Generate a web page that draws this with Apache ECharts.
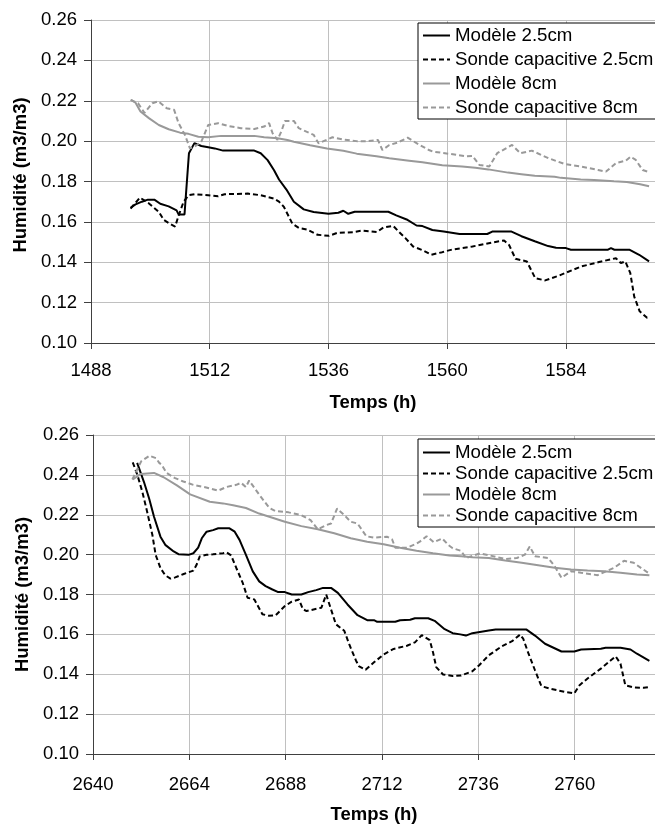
<!DOCTYPE html>
<html>
<head>
<meta charset="utf-8">
<script src="https://cdn.jsdelivr.net/npm/echarts@6/dist/echarts.min.js"></script>
<style>
  html, body { margin: 0; padding: 0; background: #ffffff; }
  #chart { width: 655px; height: 825px; }
</style>
</head>
<body>
<div id="chart"></div>
<script>
// Series names shown in both legends
const seriesNames = ['Modèle 2.5cm', 'Sonde capacitive 2.5cm', 'Modèle 8cm', 'Sonde capacitive 8cm'];

// Labelled ticks on the time axes (hours)
const topTimeTicks = [1488, 1512, 1536, 1560, 1584];
const bottomTimeTicks = [2640, 2664, 2688, 2712, 2736, 2760];

// Upper panel: [time (h), water content (m3/m3)]
const topModele25 = [
  [1496,0.167],[1497,0.1687],[1498.3,0.170],[1499.5,0.171],[1500.8,0.171],[1502,0.169],[1503.7,0.1677],
  [1505.3,0.1657],[1505.7,0.1637],[1506.9,0.1637],[1507.8,0.194],[1508.9,0.199],[1510.3,0.1976],[1511.7,0.197],
  [1513,0.1964],[1514.7,0.1953],[1521,0.1953],[1522.3,0.194],[1523.7,0.1906],[1525,0.1856],[1526,0.181],
  [1527.5,0.176],[1529,0.170],[1531,0.1662],[1533,0.1649],[1536,0.164],[1538,0.1645],[1539,0.1655],[1540,0.164],
  [1541.3,0.165],[1548.1,0.165],[1549.7,0.1632],[1551.8,0.1612],[1553.8,0.1582],[1555,0.1579],[1557,0.156],
  [1559.3,0.1552],[1562.5,0.154],[1568.1,0.154],[1569.1,0.1552],[1573,0.1552],[1575,0.1529],[1577.7,0.1504],
  [1580.4,0.148],[1582,0.1472],[1584,0.147],[1585,0.1462],[1592.5,0.1462],[1593.1,0.147],[1593.8,0.1462],
  [1596.8,0.1462],[1598.8,0.1437],[1600.8,0.1404]
];
const topSonde25 = [
  [1496,0.1666],[1497.9,0.172],[1499.6,0.1694],[1501.7,0.165],[1502.7,0.161],[1504,0.159],[1505,0.1577],
  [1505.7,0.163],[1506.7,0.1699],[1507.7,0.1732],[1509,0.1737],[1511.7,0.1732],[1513.7,0.1727],[1515,0.1737],
  [1519.7,0.174],[1522.3,0.1732],[1525,0.1715],[1526,0.170],[1527,0.1674],[1528.7,0.1591],[1530,0.157],
  [1531.7,0.1562],[1533.8,0.1536],[1536.1,0.1531],[1537.7,0.1545],[1541,0.1549],[1542.8,0.1557],[1545.8,0.155],
  [1547.1,0.1572],[1549.1,0.158],[1550.3,0.1549],[1551.5,0.1521],[1553.1,0.1478],[1555,0.146],[1556.8,0.1437],
  [1559,0.145],[1561,0.1463],[1565.1,0.1478],[1569.1,0.1498],[1571.5,0.1508],[1572.5,0.1486],[1573.8,0.1417],
  [1576.1,0.1404],[1577.8,0.1321],[1579.8,0.131],[1582.5,0.1333],[1587.1,0.1379],[1590.5,0.14],[1594.1,0.142],
  [1595.1,0.1396],[1596,0.1404],[1597,0.1347],[1597.8,0.123],[1598.9,0.1157],[1600.4,0.1125],[1600.8,0.1125]
];
const topModele8 = [
  [1496.1,0.2204],[1497,0.219],[1498,0.2147],[1499.7,0.2114],[1501.7,0.208],[1503.7,0.2059],[1506,0.2042],
  [1507.7,0.2036],[1509.7,0.2022],[1511.7,0.2019],[1514.3,0.2026],[1521,0.2026],[1523,0.2019],[1525.7,0.2014],
  [1527.7,0.2006],[1529,0.1997],[1532.3,0.198],[1535.7,0.1963],[1539,0.1952],[1541.7,0.1938],[1545.7,0.1925],
  [1548.3,0.1915],[1552.3,0.1903],[1555,0.1895],[1559,0.188],[1563,0.1874],[1565.7,0.1868],[1568.3,0.186],
  [1572.3,0.1844],[1575,0.1836],[1577.7,0.1828],[1581.7,0.1823],[1583,0.1818],[1587,0.181],[1589.7,0.1808],
  [1593.7,0.1801],[1596.3,0.1798],[1599,0.1786],[1600.8,0.1776]
];
const topSonde8 = [
  [1496,0.2204],[1497.5,0.2188],[1498.8,0.214],[1500.4,0.2188],[1501.6,0.2197],[1503.3,0.2163],[1504.8,0.2155],
  [1505.7,0.2089],[1507,0.203],[1508,0.1964],[1509,0.1973],[1510.3,0.1997],[1511.7,0.208],[1513.7,0.2089],
  [1515.7,0.2075],[1518.3,0.2064],[1521,0.206],[1523,0.2072],[1524,0.2089],[1524.7,0.2039],[1525.7,0.2006],
  [1526.5,0.205],[1527.2,0.21],[1529,0.21],[1530,0.2064],[1533,0.2031],[1534,0.1989],[1535,0.2],[1536.8,0.2019],
  [1539,0.2008],[1541.7,0.2],[1543.8,0.2],[1546,0.2006],[1546.9,0.1956],[1548.3,0.1981],[1550,0.1993],
  [1552,0.2017],[1553.8,0.199],[1556.3,0.1956],[1557.1,0.1948],[1560.5,0.1937],[1563.7,0.1925],[1565.1,0.1927],
  [1566.5,0.1882],[1568.5,0.1874],[1570.1,0.194],[1573.1,0.1981],[1574.8,0.194],[1577.1,0.1953],[1580.5,0.1915],
  [1583.8,0.1886],[1587.1,0.1874],[1590.5,0.1857],[1592.1,0.1849],[1594.1,0.1891],[1596.1,0.1903],[1597.1,0.1923],
  [1598.1,0.1907],[1599.5,0.1857],[1600.8,0.1847]
];

// Lower panel: [time (h), water content (m3/m3)]
const bottomModele25 = [
  [2651,0.246],[2652.7,0.2364],[2654,0.228],[2655.2,0.219],[2656.8,0.209],[2658,0.2049],[2660.1,0.2016],
  [2661.3,0.2002],[2663.8,0.1999],[2665,0.2007],[2666.2,0.2035],[2667.1,0.2082],[2668.3,0.2115],[2669.9,0.2123],
  [2671.2,0.2132],[2674,0.2132],[2675.3,0.2115],[2676.5,0.2074],[2678.1,0.1999],[2679.8,0.1916],[2681.4,0.1866],
  [2683,0.1842],[2684.7,0.1825],[2686,0.1813],[2687.8,0.1812],[2689.5,0.18],[2691.9,0.18],[2693.6,0.1812],
  [2695.6,0.1822],[2697.3,0.1833],[2699.3,0.1833],[2701,0.1808],[2703.4,0.175],[2705.9,0.1696],[2708.3,0.1671],
  [2710,0.1671],[2710.8,0.1663],[2715.3,0.1663],[2716.5,0.1671],[2719,0.1673],[2720.2,0.1681],[2723.5,0.1681],
  [2725.1,0.1668],[2727.6,0.1626],[2729.6,0.1606],[2731.5,0.16],[2732.9,0.1594],[2734.5,0.1606],[2738.6,0.1619],
  [2740.3,0.1624],[2748,0.1624],[2750.1,0.1594],[2752.6,0.1553],[2756.7,0.1514],[2759.9,0.1514],[2761.6,0.1524],
  [2766.5,0.1528],[2767.7,0.1533],[2771.4,0.1533],[2773.9,0.1524],[2775.5,0.1503],[2778.6,0.1467]
];
const bottomSonde25 = [
  [2649.9,0.2463],[2651.1,0.2397],[2652.3,0.2314],[2653.5,0.2214],[2654.8,0.2098],[2655.6,0.1999],[2656.8,0.1933],
  [2658,0.1896],[2659.3,0.188],[2660.5,0.1886],[2662.6,0.1903],[2665,0.192],[2665.8,0.1949],[2666.6,0.1991],
  [2668.3,0.1999],[2669.9,0.2002],[2672.4,0.2007],[2673.2,0.2012],[2674.4,0.1996],[2675.7,0.1933],[2677.3,0.1858],
  [2678.5,0.1784],[2680.2,0.1775],[2682.2,0.1701],[2683.7,0.1694],[2685.5,0.1696],[2687.8,0.1742],[2689.5,0.1764],
  [2691.3,0.1775],[2692.3,0.1726],[2693.2,0.1717],[2696.9,0.1734],[2698.1,0.18],[2698.9,0.175],[2700.5,0.1651],
  [2702.6,0.1618],[2703.8,0.1552],[2705.5,0.1469],[2706.3,0.1439],[2707.9,0.1422],[2710,0.146],[2712.4,0.1499],
  [2714.9,0.1527],[2718.2,0.1543],[2720.2,0.156],[2721.9,0.1596],[2723.9,0.1571],[2724.7,0.151],[2725.5,0.1436],
  [2727.2,0.1399],[2729.6,0.1391],[2731.7,0.1394],[2734.5,0.1415],[2736.2,0.1445],[2738.6,0.1495],[2741.9,0.1541],
  [2744.4,0.1566],[2746.4,0.1599],[2747.2,0.1577],[2748.5,0.1503],[2750.1,0.142],[2751.7,0.134],[2754.2,0.1326],
  [2757.5,0.1312],[2759.9,0.1304],[2761.2,0.1345],[2763.2,0.1379],[2766.5,0.1428],[2769,0.147],[2770.2,0.149],
  [2771.4,0.1453],[2772.6,0.1345],[2774.7,0.1334],[2777.2,0.1332],[2778.6,0.1336]
];
const bottomModele8 = [
  [2649.9,0.2377],[2651.9,0.2405],[2655.2,0.241],[2657.6,0.2388],[2660.9,0.2347],[2664.2,0.2302],[2669.1,0.2265],
  [2672.4,0.2257],[2674.9,0.2248],[2678.1,0.2234],[2681.4,0.2206],[2684.7,0.2185],[2687.8,0.2165],[2691.9,0.2143],
  [2696,0.2127],[2700.1,0.2107],[2704.2,0.2082],[2708.3,0.2065],[2712.4,0.2052],[2716.5,0.2035],[2720.6,0.2019],
  [2724.7,0.2007],[2728.8,0.1996],[2731.7,0.1992],[2734.5,0.1987],[2738.6,0.1983],[2742.7,0.197],[2746.8,0.1959],
  [2750.9,0.1947],[2755,0.1934],[2759.1,0.1925],[2763.2,0.192],[2767.3,0.1917],[2771.4,0.1909],[2775.5,0.19],
  [2778.6,0.1897]
];
const bottomSonde8 = [
  [2649.8,0.2377],[2650.8,0.2418],[2652,0.2468],[2654.1,0.2496],[2655.7,0.2484],[2656.5,0.246],[2657.1,0.2451],
  [2658.3,0.241],[2660.3,0.2385],[2662.5,0.2367],[2665,0.235],[2668.2,0.2337],[2671.2,0.2321],[2673.2,0.2339],
  [2675.7,0.235],[2676.9,0.236],[2678.1,0.2339],[2678.9,0.2372],[2681.4,0.2301],[2683.9,0.2235],[2685.4,0.2219],
  [2688.7,0.2212],[2691.9,0.2198],[2694.2,0.2173],[2696,0.2127],[2698.1,0.2148],[2699.3,0.2156],[2700.8,0.2231],
  [2702.6,0.2198],[2704.2,0.2165],[2705.9,0.2156],[2708.1,0.2092],[2710,0.2085],[2713.2,0.209],[2714.5,0.2077],
  [2715.3,0.2035],[2718.2,0.2035],[2720.4,0.2053],[2721.4,0.2065],[2723.1,0.2092],[2724.9,0.2062],[2727,0.2081],
  [2728.6,0.2047],[2729.6,0.2032],[2731.7,0.2019],[2732.9,0.1983],[2736.4,0.2006],[2738.6,0.1997],[2742.7,0.1978],
  [2745.6,0.1983],[2747.6,0.2],[2748.8,0.2041],[2750.1,0.1992],[2753.4,0.1983],[2755,0.1942],[2756.7,0.1884],
  [2759.1,0.1917],[2761.6,0.1909],[2765.7,0.1897],[2769.8,0.1934],[2772.3,0.1969],[2774.7,0.1959],[2776.6,0.1932],
  [2778.6,0.1905]
];

const FONT = '"Liberation Sans", Arial, sans-serif';
const AXIS_FONT_SIZE = 18.5;
const LEGEND_FONT_SIZE = 18.7;
const AXIS_COLOR = '#404040';
const GRID_COLOR = '#c0c0c0';
const styles = [
  { color: '#000000', type: 'solid' },
  { color: '#000000', type: [5, 3] },
  { color: '#999999', type: 'solid' },
  { color: '#999999', type: [5, 3] }
];

function timeAxis(gridIndex, min, max, ticks, labelMargin, nameGap) {
  return {
    type: 'value', gridIndex, min, max, interval: 6,
    name: 'Temps (h)', nameLocation: 'middle', nameGap,
    nameTextStyle: { fontFamily: FONT, fontSize: AXIS_FONT_SIZE, fontWeight: 'bold', color: '#000' },
    axisLine: { show: true, onZero: false, lineStyle: { color: AXIS_COLOR, width: 1 } },
    axisTick: { show: true, customValues: ticks, length: 6, lineStyle: { color: AXIS_COLOR } },
    axisLabel: {
      customValues: ticks, margin: labelMargin, fontFamily: FONT, fontSize: AXIS_FONT_SIZE, color: '#000',
      formatter: v => String(v)
    },
    splitLine: { show: true, lineStyle: { color: GRID_COLOR, width: 1 } }
  };
}

function moistureAxis(gridIndex, namePadding) {
  return {
    type: 'value', gridIndex, min: 0.10, max: 0.26, interval: 0.02,
    name: 'Humidité (m3/m3)', nameLocation: 'middle', nameGap: 59,
    nameTextStyle: { fontFamily: FONT, fontSize: AXIS_FONT_SIZE, fontWeight: 'bold', color: '#000', padding: namePadding },
    axisLine: { show: true, onZero: false, lineStyle: { color: AXIS_COLOR, width: 1 } },
    axisTick: { show: true, length: 7, lineStyle: { color: AXIS_COLOR } },
    axisLabel: { margin: 14, fontFamily: FONT, fontSize: AXIS_FONT_SIZE, color: '#000', formatter: v => v.toFixed(2) },
    splitLine: { show: true, lineStyle: { color: GRID_COLOR, width: 1 } }
  };
}

function lineSeries(i, data, axisIndex) {
  return {
    name: seriesNames[i], type: 'line', data,
    xAxisIndex: axisIndex, yAxisIndex: axisIndex,
    symbol: 'none', showSymbol: false, clip: true,
    lineStyle: { color: styles[i].color, width: 2, type: styles[i].type },
    itemStyle: { color: styles[i].color },
    emphasis: { disabled: true }
  };
}

function legendBox(top, gap, padding) {
  return {
    data: seriesNames, orient: 'vertical', left: 418, top,
    padding, itemGap: gap, itemWidth: 27, itemHeight: 14,
    backgroundColor: '#ffffff', borderColor: '#000000', borderWidth: 1, borderRadius: 0,
    selectedMode: false,
    itemStyle: { opacity: 0 },
    textStyle: { fontFamily: FONT, fontSize: LEGEND_FONT_SIZE, color: '#000', lineHeight: 18 }
  };
}

const chart = echarts.init(document.getElementById('chart'), null, { renderer: 'canvas' });
chart.setOption({
  animation: false,
  backgroundColor: '#ffffff',
  grid: [
    { left: 91, top: 20, width: 570, height: 323 },
    { left: 93, top: 435, width: 568, height: 322 }
  ],
  xAxis: [
    timeAxis(0, 1488, 1602, topTimeTicks, 18, 50),
    timeAxis(1, 2640, 2780, bottomTimeTicks, 21, 51)
  ],
  yAxis: [
    moistureAxis(0, [0, 0, 0, 13]),
    moistureAxis(1, 0)
  ],
  legend: [
    legendBox(23, 5, [3, 40, 2, 4]),
    legendBox(439, 2, [4, 40, 2, 4])
  ],
  series: [
    lineSeries(0, topModele25, 0),
    lineSeries(1, topSonde25, 0),
    lineSeries(2, topModele8, 0),
    lineSeries(3, topSonde8, 0),
    lineSeries(0, bottomModele25, 1),
    lineSeries(1, bottomSonde25, 1),
    lineSeries(2, bottomModele8, 1),
    lineSeries(3, bottomSonde8, 1)
  ]
});
</script>
</body>
</html>
